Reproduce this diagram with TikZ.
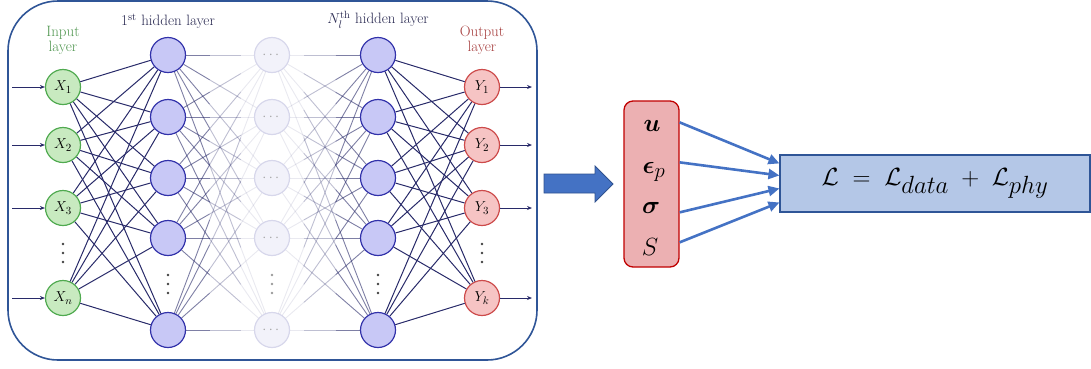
\documentclass[tikz,border=0pt]{standalone}
\usepackage{amsmath,bm}
\usetikzlibrary{calc,arrows.meta}
\definecolor{framec}{RGB}{47,85,151}
\definecolor{edgec}{RGB}{40,42,105}
\definecolor{hidfill}{RGB}{200,200,246}
\definecolor{hiddraw}{RGB}{50,50,170}
\definecolor{infill}{RGB}{200,234,192}
\definecolor{indraw}{RGB}{80,170,80}
\definecolor{outfill}{RGB}{246,196,196}
\definecolor{outdraw}{RGB}{205,75,75}
\definecolor{fadefill}{RGB}{242,242,250}
\definecolor{fadedraw}{RGB}{215,215,235}
\definecolor{ingreen}{RGB}{80,150,80}
\definecolor{outred}{RGB}{165,60,60}
\definecolor{labnavy}{RGB}{40,40,80}
\definecolor{arrowblue}{RGB}{68,114,196}
\definecolor{arrowdraw}{RGB}{47,82,143}
\definecolor{varfill}{RGB}{236,176,178}
\definecolor{vardraw}{RGB}{192,0,0}
\definecolor{lossfill}{RGB}{180,199,231}
\begin{document}
\begin{tikzpicture}[x=1pt,y=-1pt,
  neuron/.style={circle, minimum size=35pt, inner sep=0pt, line width=1.2pt, font=\fontsize{15}{17}\selectfont},
  innode/.style={neuron, fill=infill, draw=indraw},
  hidnode/.style={neuron, fill=hidfill, draw=hiddraw},
  fadenode/.style={neuron, fill=fadefill, draw=fadedraw, text=black!35},
  outnode/.style={neuron, fill=outfill, draw=outdraw},
  conn/.style={draw=edgec, line width=1pt},
  fadeA/.style={draw=edgec, draw opacity=0.6, line width=0.9pt},
  fadeB/.style={draw=edgec, draw opacity=0.3, line width=0.9pt},
  fadeC/.style={draw=edgec, draw opacity=0.1, line width=0.9pt},
  layerlab/.style={font=\fontsize{15}{15}\selectfont, align=center},
  vdot/.style={circle, fill=#1, minimum size=2.8pt, inner sep=0pt},
  ioarrow/.style={draw=edgec, line width=1pt, -{Stealth[length=5pt,width=4pt]}},
  bluearrow/.style={draw=arrowblue, line width=2.6pt, -{Triangle[length=11pt,width=10pt]}},
  varlab/.style={font=\fontsize{31}{34}\selectfont, inner sep=0pt}
]
\useasboundingbox (0,0) rectangle (1091,368);
% frame
\draw[framec, line width=1.6pt, rounded corners=50pt] (8,1) rectangle (537,360);

% labels
\node[layerlab, text=ingreen] (linput) at (63,40) {Input\\layer};
\node[layerlab, text=labnavy] (lhid1) at (168,21) {1\textsuperscript{st} hidden layer};
\node[layerlab, text=labnavy] (lhidN) at (378,20) {$N_l^{\text{th}}$ hidden layer};
\node[layerlab, text=outred] (loutput) at (482,40) {Output\\layer};

% input and output nodes
\foreach \i/\y/\lab in {1/87/1,2/145/2,3/208/3,4/298/n}{
  \node[innode] (x\i) at (63,\y) {$X_{\lab}$};
  \coordinate (xin\i) at (12,\y);
  \draw[ioarrow] (xin\i) -- (x\i);
}
\foreach \i/\y/\lab in {1/87/1,2/145/2,3/208/3,4/298/k}{
  \node[outnode] (y\i) at (482,\y) {$Y_{\lab}$};
  \coordinate (yout\i) at (532,\y);
  \draw[ioarrow] (y\i) -- (yout\i);
}
% hidden layers
\foreach \j/\y in {1/55,2/117,3/178,4/238,5/330}{
  \node[hidnode] (h\j) at (168,\y) {};
  \node[fadenode] (f\j) at (272,\y) {$\cdots$};
  \node[hidnode] (n\j) at (378,\y) {};
}
% vertical dots
\foreach \nm/\x/\y/\c in {dx/63/253/black!75, dh/168/284/black!75, df/272/284/black!40, dn/378/284/black!75, dy/482/253/black!75}{
  \foreach \d/\off in {a/-9,b/0,c/9}{
    \node[vdot=\c] (\nm\d) at (\x,\y+\off) {};
  }
}

% connections
\foreach \i in {1,...,4}{
  \foreach \j in {1,...,5}{
    \draw[conn] (x\i) -- (h\j);
    \draw[conn] (n\j) -- (y\i);
  }
}
\foreach \j in {1,...,5}{
  \foreach \k in {1,...,5}{
    \draw[fadeA] (h\j) -- ($(h\j)!0.4!(f\k)$);
    \draw[fadeB] ($(h\j)!0.4!(f\k)$) -- ($(h\j)!0.7!(f\k)$);
    \draw[fadeC] ($(h\j)!0.7!(f\k)$) -- (f\k);
    \draw[fadeC] (f\k) -- ($(f\k)!0.3!(n\j)$);
    \draw[fadeB] ($(f\k)!0.3!(n\j)$) -- ($(f\k)!0.6!(n\j)$);
    \draw[fadeA] ($(f\k)!0.6!(n\j)$) -- (n\j);
  }
}

% big arrow
\draw[fill=arrowblue, draw=arrowdraw, line width=0.8pt]
  (544,174) -- (595,174) -- (595,166) -- (613,184) -- (595,202) -- (595,193) -- (544,193) -- cycle;

% variables box
\node[draw=vardraw, fill=varfill, line width=1.3pt, rounded corners=9pt,
      minimum width=55pt, minimum height=166pt, inner sep=0pt] (vars) at (651.5,184) {};
\node[varlab] (vu) at (652,126) {$\bm{u}$};
\node[varlab] (ve) at (654,172) {$\bm{\epsilon}_{p}$};
\node[varlab] (vs) at (651,208) {$\bm{\sigma}$};
\node[varlab] (vS) at (650,247) {$S$};

% loss box
\node[draw=framec, fill=lossfill, line width=1.1pt, minimum width=310pt, minimum height=57pt,
      inner sep=0pt, font=\fontsize{37}{40}\selectfont] (loss) at (935,183.5)
      {$\mathcal{L}\;=\;\mathcal{L}_{data}\;+\;\mathcal{L}_{phy}$};

% arrows to loss
\coordinate (s1) at ($(vars.north east)+(0,22)$);
\coordinate (s2) at ($(vars.north east)+(0,62)$);
\coordinate (s3) at ($(vars.north east)+(0,112)$);
\coordinate (s4) at ($(vars.north east)+(0,142)$);
\coordinate (e1) at ($(loss.north west)+(0,9)$);
\coordinate (e2) at ($(loss.north west)+(0,21)$);
\coordinate (e3) at ($(loss.north west)+(0,34)$);
\coordinate (e4) at ($(loss.north west)+(0,48)$);
\foreach \k in {1,...,4}{ \draw[bluearrow] (s\k) -- (e\k); }
\end{tikzpicture}
\end{document}
